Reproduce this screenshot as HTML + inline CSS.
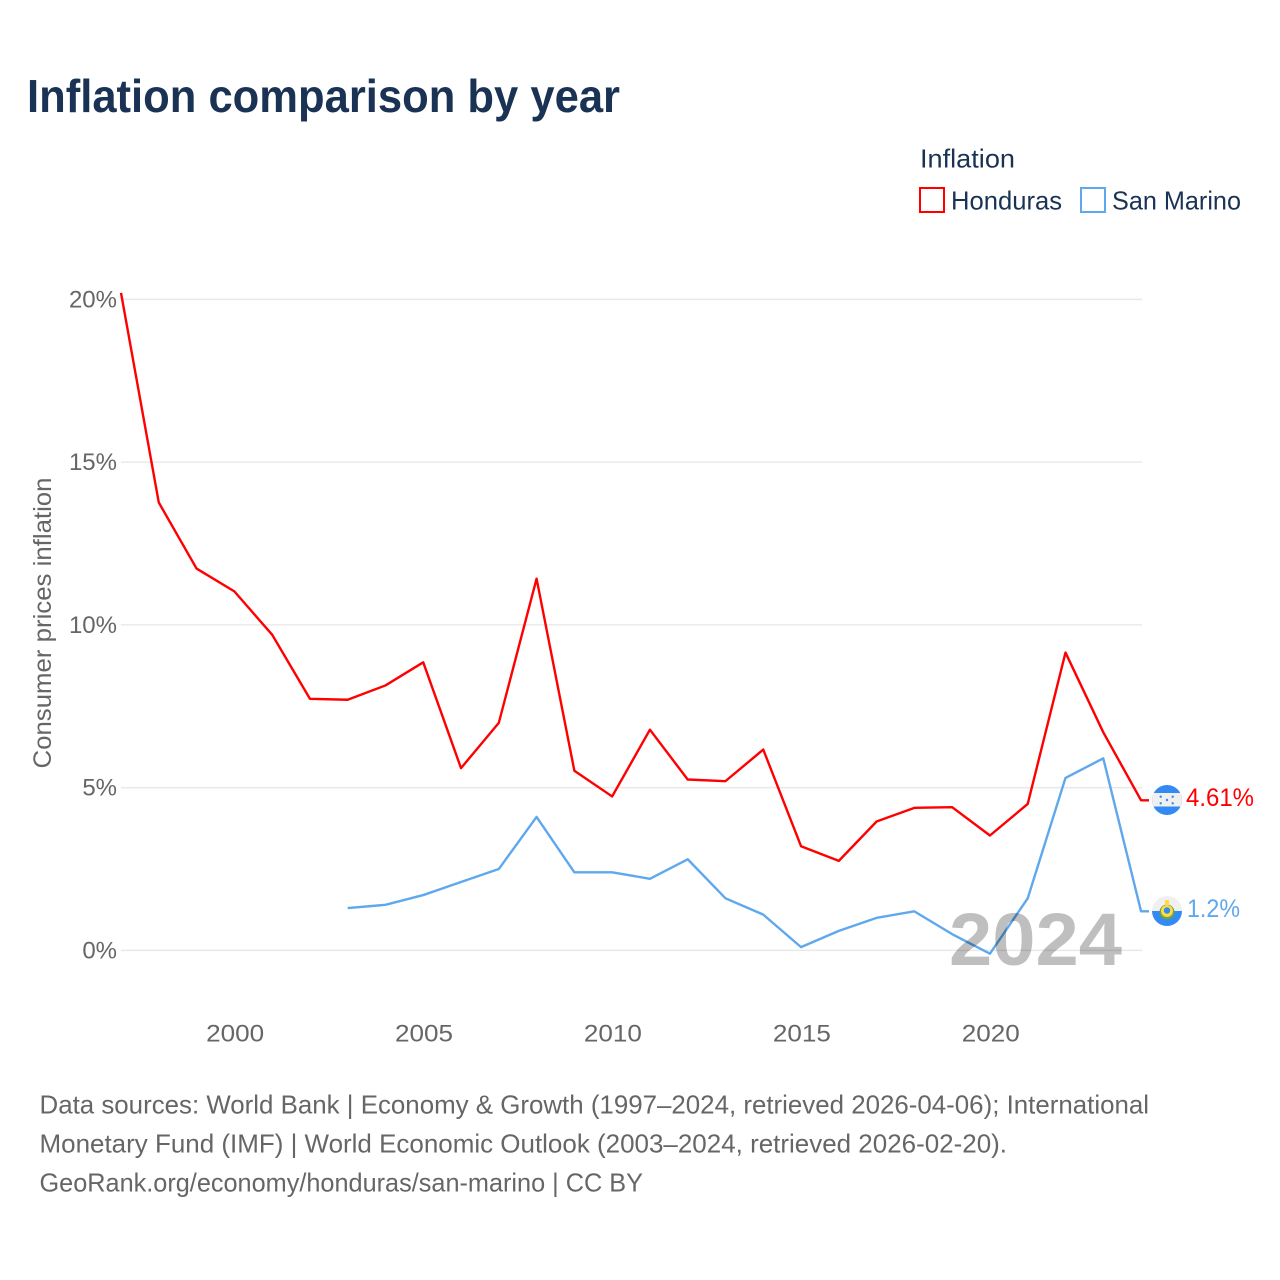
<!DOCTYPE html>
<html lang="en">
<head>
<meta charset="utf-8">
<title>Inflation comparison by year</title>
<style>
html,body{margin:0;padding:0;background:#fff;width:1280px;height:1280px;overflow:hidden}
svg{display:block}
text{font-family:"Liberation Sans",sans-serif}
</style>
</head>
<body>
<svg id="chart" xmlns="http://www.w3.org/2000/svg" width="1280" height="1280" viewBox="0 0 1280 1280">
  <rect x="0" y="0" width="1280" height="1280" fill="#fff"/>
  <text x="27" y="112" font-size="46" font-weight="700" fill="#1a3354" textLength="593" lengthAdjust="spacingAndGlyphs">Inflation comparison by year</text>

  <g>
    <text x="920" y="167.5" font-size="26" fill="#1a3354" textLength="95" lengthAdjust="spacingAndGlyphs">Inflation</text>
    <g>
      <rect x="920" y="188" width="24" height="24" fill="none" stroke="#ff0000" stroke-width="2"/>
      <text x="951" y="209.5" font-size="26" fill="#1a3354" textLength="111" lengthAdjust="spacingAndGlyphs">Honduras</text>
    </g>
    <g>
      <rect x="1081" y="188" width="24" height="24" fill="none" stroke="#5fa8ee" stroke-width="2"/>
      <text x="1112" y="209.5" font-size="26" fill="#1a3354" textLength="129" lengthAdjust="spacingAndGlyphs">San Marino</text>
    </g>
  </g>

  <g id="grid"></g>
  <g id="yticks"></g>
  <g id="xticks"></g>
  <text transform="translate(51,623) rotate(-90)" text-anchor="middle" font-size="25" fill="#666" textLength="291" lengthAdjust="spacingAndGlyphs">Consumer prices inflation</text>

  <g id="series"></g>

  <text x="949" y="965" font-size="74" font-weight="700" fill="#000" fill-opacity="0.25" textLength="173" lengthAdjust="spacingAndGlyphs">2024</text>

  <g>
    <clipPath id="clip-hn"><circle cx="1167" cy="800" r="15"/></clipPath>
    <g clip-path="url(#clip-hn)">
      <rect x="1152" y="785" width="30" height="30" fill="#338af3"/>
      <rect x="1152" y="793" width="30" height="13.5" fill="#f0f0f0"/>
      <circle cx="1167" cy="800" r="1.2" fill="#338af3"/>
      <circle cx="1160.7" cy="796.7" r="1.2" fill="#338af3"/>
      <circle cx="1172.7" cy="796.7" r="1.2" fill="#338af3"/>
      <circle cx="1160.7" cy="803.3" r="1.2" fill="#338af3"/>
      <circle cx="1172.7" cy="803.3" r="1.2" fill="#338af3"/>
    </g>
  </g>
  <text x="1186" y="806" font-size="25" fill="#ff0000" textLength="68" lengthAdjust="spacingAndGlyphs">4.61%</text>

  <g>
    <clipPath id="clip-sm"><circle cx="1167" cy="911" r="15"/></clipPath>
    <g clip-path="url(#clip-sm)">
      <rect x="1152" y="896" width="30" height="15" fill="#f0f0f0"/>
      <rect x="1152" y="911" width="30" height="15" fill="#338af3"/>
      <circle cx="1167" cy="912" r="7.5" fill="#6da544"/>
      <circle cx="1167" cy="911" r="6" fill="#ffda44"/>
      <circle cx="1167" cy="910.5" r="3.2" fill="#338af3"/>
      <rect x="1165" y="900" width="4" height="5" fill="#ffda44"/>
    </g>
  </g>
  <text x="1187" y="917" font-size="25" fill="#5fa8ee" textLength="53" lengthAdjust="spacingAndGlyphs">1.2%</text>

  <g font-size="26" fill="#666">
    <text x="39.5" y="1113.5" textLength="1109.5" lengthAdjust="spacingAndGlyphs">Data sources: World Bank | Economy &amp; Growth (1997–2024, retrieved 2026-04-06); International</text>
    <text x="39.5" y="1152.5" textLength="967.5" lengthAdjust="spacingAndGlyphs">Monetary Fund (IMF) | World Economic Outlook (2003–2024, retrieved 2026-02-20).</text>
    <text x="39.5" y="1191.5" textLength="603.5" lengthAdjust="spacingAndGlyphs">GeoRank.org/economy/honduras/san-marino | CC BY</text>
  </g>
</svg>
<script>
const years = [1997,1998,1999,2000,2001,2002,2003,2004,2005,2006,2007,2008,2009,2010,2011,2012,2013,2014,2015,2016,2017,2018,2019,2020,2021,2022,2023,2024];
const hondurasValues = [20.2,13.76,11.73,11.03,9.7,7.73,7.7,8.14,8.85,5.6,6.99,11.42,5.52,4.73,6.78,5.25,5.2,6.17,3.2,2.75,3.96,4.38,4.4,3.53,4.5,9.15,6.7,4.61];
const sanMarinoValues = [null,null,null,null,null,null,1.3,1.4,1.7,2.1,2.5,4.1,2.4,2.4,2.2,2.8,1.6,1.1,0.1,0.6,1.0,1.2,0.5,-0.1,1.6,5.3,5.9,1.2];
const yTickValues = [0,5,10,15,20];
const xTickValues = [2000,2005,2010,2015,2020];

const NS = 'http://www.w3.org/2000/svg';
const xScale = function (yr) { return 121 + (yr - 1997) * 37.78; };
const yScale = function (v) { return 950.4 - v * 32.55; };
const LEAD_END = 1149;

const gridGroup = document.getElementById('grid');
const yGroup = document.getElementById('yticks');
const xGroup = document.getElementById('xticks');
const seriesGroup = document.getElementById('series');

yTickValues.forEach(function (v) {
  const line = document.createElementNS(NS, 'line');
  
  
  line.setAttribute('x1', 121);
  line.setAttribute('x2', 1142);
  line.setAttribute('y1', yScale(v));
  line.setAttribute('y2', yScale(v));
  line.setAttribute('stroke', '#e9e9e9');
  line.setAttribute('stroke-width', '1.5');
  gridGroup.appendChild(line);

  const label = document.createElementNS(NS, 'text');
  
  
  label.setAttribute('x', 117);
  label.setAttribute('y', yScale(v) + 8);
  label.setAttribute('text-anchor', 'end');
  label.setAttribute('font-size', '24');
  label.setAttribute('fill', '#666');
  label.textContent = v + '%';
  yGroup.appendChild(label);
});

xTickValues.forEach(function (yr) {
  const label = document.createElementNS(NS, 'text');
  
  
  label.setAttribute('x', xScale(yr) + 0.8);
  label.setAttribute('y', 1041.5);
  label.setAttribute('text-anchor', 'middle');
  label.setAttribute('font-size', '24');
  label.setAttribute('fill', '#666');
  label.setAttribute('textLength', '58');
  label.setAttribute('lengthAdjust', 'spacingAndGlyphs');
  label.textContent = String(yr);
  xGroup.appendChild(label);
});

function seriesPoints(values) {
  const pts = [];
  values.forEach(function (v, i) {
    if (v !== null) pts.push(xScale(years[i]).toFixed(2) + ',' + yScale(v).toFixed(2));
  });
  pts.push(LEAD_END + ',' + yScale(values[values.length - 1]).toFixed(2));
  return pts.join(' ');
}

const hondurasLine = document.createElementNS(NS, 'polyline');


hondurasLine.setAttribute('points', seriesPoints(hondurasValues));
hondurasLine.setAttribute('fill', 'none');
hondurasLine.setAttribute('stroke', '#ff0000');
hondurasLine.setAttribute('stroke-width', '2.4');
hondurasLine.setAttribute('stroke-linejoin', 'round');
seriesGroup.appendChild(hondurasLine);

const sanMarinoLine = document.createElementNS(NS, 'polyline');


sanMarinoLine.setAttribute('points', seriesPoints(sanMarinoValues));
sanMarinoLine.setAttribute('fill', 'none');
sanMarinoLine.setAttribute('stroke', '#5fa8ee');
sanMarinoLine.setAttribute('stroke-width', '2.4');
sanMarinoLine.setAttribute('stroke-linejoin', 'round');
seriesGroup.appendChild(sanMarinoLine);
</script>
</body>
</html>
